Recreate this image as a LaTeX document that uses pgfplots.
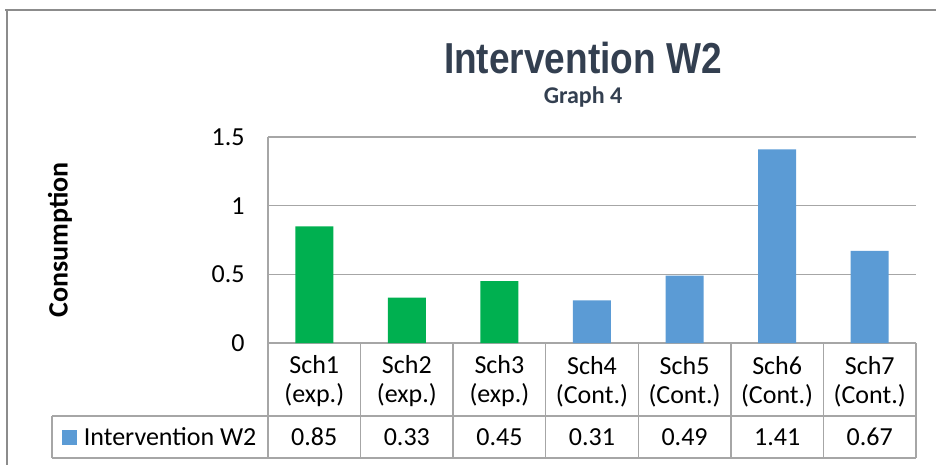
\documentclass[border=0pt]{standalone}
\usepackage{pgfplots}
\pgfplotsset{compat=1.18}
\usepackage{fontspec}
\setmainfont{Carlito}
\newfontfamily\titlefont[FakeStretch=0.855]{Liberation Sans}
\definecolor{grn}{HTML}{00B050}
\definecolor{blu}{HTML}{5B9BD5}
\definecolor{ttl}{HTML}{333F50}
\definecolor{gridc}{HTML}{A6A6A6}
\definecolor{frm}{HTML}{8C8C8C}
\begin{document}
\begin{tikzpicture}
\path[use as bounding box] (0pt,0pt) rectangle (702pt,348.75pt);
\draw[frm, line width=1.1pt] (3.75pt,341.25pt) -- (702pt,341.25pt);
\draw[frm, line width=1.1pt] (5.25pt,341.25pt) -- (5.25pt,0pt);
\node[anchor=base, text=ttl, font=\titlefont\bfseries\fontsize{32.5}{36}\selectfont] at (437.25pt,293.25pt) {Intervention W2};
\node[anchor=base, text=ttl, font=\bfseries\fontsize{18}{20}\selectfont] at (437.25pt,270.75pt) {Graph 4};
\node[rotate=90, font=\bfseries\fontsize{21}{23}\selectfont] at (45pt,168.75pt) {Consumption};
\begin{axis}[
  at={(201pt,91.5pt)}, anchor=south west,
  scale only axis, width=486pt, height=154.5pt,
  xmin=-0.5, xmax=6.5, ymin=0, ymax=1.5,
  clip=false,
  axis x line=bottom, axis y line=left,
  axis line style={gridc, line width=1pt, -},
  ytick={0,0.5,1,1.5},
  ymajorgrids, grid style={gridc, line width=1pt},
  major tick length=0pt,
  xtick={0,1,2,3,4,5,6},
  xticklabels={{Sch1\\(exp.)},{Sch2\\(exp.)},{Sch3\\(exp.)},{Sch4\\(Cont.)},{Sch5\\(Cont.)},{Sch6\\(Cont.)},{Sch7\\(Cont.)}},
  xticklabel style={align=center, anchor=center, yshift=-28.9pt, font=\fontsize{19.5}{21.75}\selectfont},
  yticklabel style={font=\fontsize{19.5}{21.75}\selectfont, xshift=-14pt},
  /pgf/number format/assume math mode=true,
]
\addplot[ybar, bar width=28.5pt, bar shift=0pt, fill=grn, draw=none] coordinates {(0,0.85) (1,0.33) (2,0.45)};
\addplot[ybar, bar width=28.5pt, bar shift=0pt, fill=blu, draw=none] coordinates {(3,0.31) (4,0.49) (5,1.41) (6,0.67)};
\addplot[only marks, mark=none, point meta=explicit symbolic, nodes near coords, nodes near coords style={anchor=center, font=\fontsize{19.5}{21.75}\selectfont}] coordinates {(0,-0.6845)[0.85] (1,-0.6845)[0.33] (2,-0.6845)[0.45] (3,-0.6845)[0.31] (4,-0.6845)[0.49] (5,-0.6845)[1.41] (6,-0.6845)[0.67]};
\draw[gridc, line width=1pt] (axis cs:-2.833,-0.5316) -- (axis cs:6.5,-0.5316);
\draw[gridc, line width=1pt] (axis cs:-2.833,-0.8374) -- (axis cs:6.5,-0.8374);
\draw[gridc, line width=1pt] (axis cs:-2.833,-0.5316) -- (axis cs:-2.833,-0.8374);
\pgfplotsinvokeforeach{-0.5,0.5,1.5,2.5,3.5,4.5,5.5,6.5}{
  \draw[gridc, line width=1pt] (axis cs:#1,0) -- (axis cs:#1,-0.8374);
}
\fill[blu] (axis cs:-2.725,-0.6335) rectangle (axis cs:-2.563,-0.7427);
\node[anchor=west, font=\fontsize{19.5}{21.75}\selectfont] at (axis cs:-2.54,-0.6845) {Intervention W2};
\end{axis}
\end{tikzpicture}
\end{document}
